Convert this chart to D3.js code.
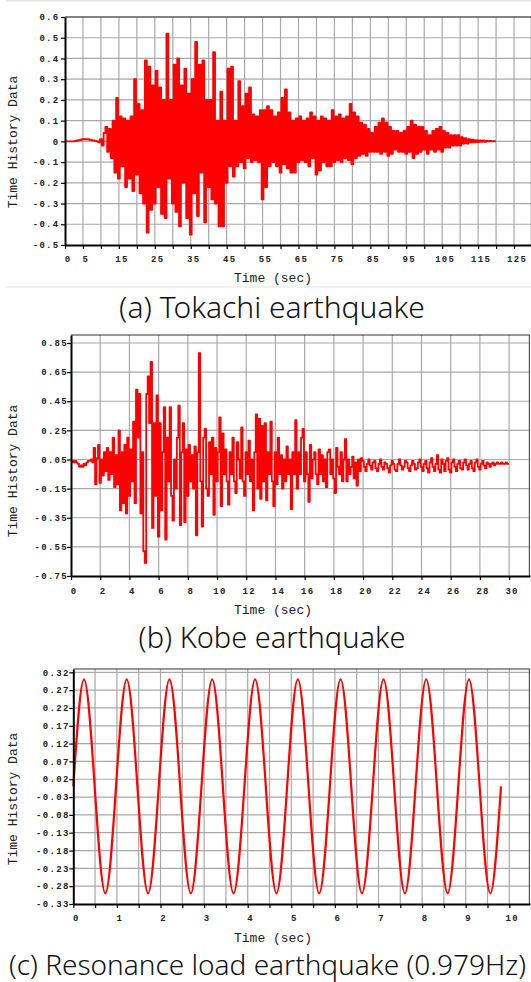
<!DOCTYPE html>
<html>
<head>
<meta charset="utf-8">
<script src="https://cdn.jsdelivr.net/npm/d3@7"></script>
<style>
  body { margin: 0; background: #fff; }
  svg { display: block; }
</style>
</head>
<body>
<svg width="531" height="982"></svg>
<script>
// ---- Data
// (a) Tokachi: one sample every 0.5 s, 0..120 s
const tokachiDt = 0.5;
const tokachiValues = [
  0, 0, 0, 0, 0, 0, 0.002, 0.004, 0.006, 0.008,
  0.01, 0.01, 0.01, 0.01, 0.008, 0.006, 0.004, 0.002, 0, -0.004,
  0.01, -0.02, 0.04, 0.07, -0.05, 0.06, -0.08, 0.1, -0.15, 0.21,
  -0.18, 0.12, -0.12, 0.11, -0.22, 0.1, -0.18, 0.12, -0.24, 0.3,
  -0.16, 0.18, -0.25, 0.15, -0.3, 0.39, -0.44, 0.36, -0.33, 0.27,
  -0.3, 0.34, -0.22, 0.26, -0.35, 0.2, -0.37, 0.52, -0.18, 0.2,
  -0.3, 0.37, -0.34, 0.4, -0.41, 0.27, -0.2, 0.35, -0.37, 0.23,
  -0.45, 0.3, -0.25, 0.48, -0.36, 0.37, -0.15, 0.39, -0.39, 0.2,
  -0.22, 0.2, -0.28, 0.43, -0.3, 0.1, -0.41, 0.24, -0.41, 0.1,
  -0.2, 0.35, -0.12, 0.36, -0.17, 0.1, -0.12, 0.29, -0.1, 0.17,
  -0.13, 0.23, -0.08, 0.26, -0.1, 0.13, -0.09, 0.12, -0.1, 0.15,
  -0.28, 0.15, -0.22, 0.17, -0.12, 0.15, -0.1, 0.12, -0.12, 0.14,
  -0.15, 0.21, -0.11, 0.25, -0.13, 0.14, -0.15, 0.1, -0.15, 0.11,
  -0.1, 0.12, -0.09, 0.1, -0.1, 0.11, -0.12, 0.14, -0.08, 0.12,
  -0.16, 0.1, -0.14, 0.12, -0.1, 0.11, -0.12, 0.1, -0.12, 0.15,
  -0.1, 0.12, -0.09, 0.13, -0.1, 0.11, -0.08, 0.12, -0.09, 0.18,
  -0.11, 0.14, -0.08, 0.12, -0.07, 0.09, -0.06, 0.08, -0.07, 0.06,
  -0.05, 0.04, -0.05, 0.07, -0.05, 0.09, -0.06, 0.11, -0.05, 0.09,
  -0.07, 0.07, -0.06, 0.05, -0.04, 0.05, -0.05, 0.04, -0.05, 0.05,
  -0.06, 0.07, -0.05, 0.1, -0.08, 0.08, -0.06, 0.07, -0.05, 0.07,
  -0.04, 0.05, -0.06, 0.03, -0.04, 0.05, -0.05, 0.06, -0.04, 0.07,
  -0.05, 0.05, -0.03, 0.04, -0.03, 0.03, -0.02, 0.03, -0.02, 0.03,
  -0.02, 0.02, -0.01, 0.015, -0.01, 0.01, -0.005, 0.008, -0.004, 0.006,
  -0.003, 0.005, -0.002, 0.004, -0.002, 0.003, 0, 0.002, 0, 0.001,
  0
];

// (b) Kobe: one sample every 0.1 s, 0..30 s
const kobeDt = 0.1;
const kobeValues = [
  0.03, 0.04, 0.03, 0.04, 0.03, 0.02, 0.0, 0.01, 0.0, 0.02,
  0.01, 0.03, 0.04, 0.04, 0.05, 0.03, 0.13, -0.12, 0.06, 0.15,
  -0.11, 0.05, -0.06, 0.1, -0.03, 0.13, -0.09, 0.1, -0.05, 0.2,
  -0.14, 0.08, -0.12, 0.25, -0.3, 0.1, -0.25, 0.15, -0.32, 0.2,
  -0.2, 0.12, -0.1, 0.31, -0.25, 0.53, 0.2, 0.5, -0.32, 0.1,
  -0.58, -0.66, 0.5, 0.62, 0.3, 0.72, -0.42, 0.3, -0.2, 0.49,
  -0.48, 0.3, -0.3, 0.1, 0.41, -0.5, 0.2, -0.1, 0.41, -0.2,
  -0.37, 0.05, -0.15, 0.2, 0.42, -0.4, 0.1, 0.3, -0.38, 0.12,
  -0.2, 0.15, -0.1, 0.08, -0.15, 0.14, -0.47, 0.1, 0.78, -0.1,
  -0.41, 0.2, 0.26, -0.15, -0.2, 0.17, -0.05, 0.2, -0.33, 0.13,
  -0.1, 0.1, 0.34, -0.27, 0.23, -0.05, 0.12, -0.1, -0.26, 0.1,
  -0.05, 0.2, -0.1, -0.18, 0.17, 0.05, -0.08, 0.27, -0.1, -0.2,
  0.1, -0.05, 0.18, -0.1, 0.05, -0.3, 0.1, 0.36, -0.15, 0.33,
  -0.22, 0.28, -0.1, 0.3, -0.23, 0.1, -0.05, 0.31, -0.1, -0.27,
  0.1, -0.12, 0.2, -0.05, 0.08, -0.15, 0.05, -0.1, 0.14, -0.05,
  0.05, -0.29, 0.1, -0.05, 0.32, -0.15, 0.1, -0.05, 0.2, 0.26,
  -0.1, 0.1, -0.05, -0.24, 0.15, -0.08, 0.05, 0.1, -0.05, -0.12,
  0.12, -0.05, 0.08, -0.1, 0.05, -0.14, 0.1, 0.12, -0.05, 0.05,
  -0.08, -0.18, 0.13, 0.0, -0.05, 0.1, -0.1, 0.05, 0.19, -0.1,
  0.05, -0.05, 0.0, 0.07, -0.08, 0.03, -0.13, 0.05, -0.03, 0.06,
  0.04, 0.0, -0.03, 0.02, 0.05, 0.01, -0.02, 0.03, 0.04, -0.01,
  -0.03, 0.02, 0.05, 0.0, -0.02, 0.03, 0.02, -0.01, -0.04, 0.01,
  0.04, 0.02, -0.02, -0.03, 0.02, 0.05, 0.01, -0.02, 0.0, 0.04,
  0.03, -0.01, -0.03, 0.01, 0.04, 0.02, -0.02, -0.01, 0.03, 0.05,
  0.0, -0.03, 0.02, 0.04, -0.01, -0.04, 0.03, 0.06, 0.0, -0.03,
  0.02, 0.08, -0.02, -0.04, 0.05, 0.02, -0.03, 0.04, 0.06, -0.02,
  -0.04, 0.03, 0.05, 0.0, -0.03, 0.02, 0.04, -0.01, -0.02, 0.03,
  0.05, 0.01, -0.02, 0.02, 0.04, -0.01, -0.03, 0.03, 0.05, 0.0,
  -0.02, 0.02, 0.04, 0.01, -0.01, 0.03, 0.02, 0.0, 0.02, 0.03,
  0.01, 0.02, 0.03, 0.02, 0.02, 0.03, 0.02, 0.02, 0.03, 0.02,
  0.02
];

// (c) Resonance load: zero crossings, peaks and troughs
const resonanceTimes = [
  0, 0.245, 0.49, 0.735, 0.98, 1.225, 1.47, 1.715, 1.96, 2.205,
  2.45, 2.695, 2.94, 3.185, 3.43, 3.675, 3.925, 4.17, 4.415, 4.66,
  4.905, 5.15, 5.395, 5.64, 5.885, 6.13, 6.375, 6.62, 6.87, 7.115,
  7.36, 7.605, 7.85, 8.095, 8.34, 8.585, 8.83, 9.075, 9.32, 9.565,
  9.81
];
const resonanceValues = [
  0, 0.3, 0, -0.3, 0, 0.3, 0, -0.3, 0, 0.3,
  0, -0.3, 0, 0.3, 0, -0.3, 0, 0.3, 0, -0.3,
  0, 0.3, 0, -0.3, 0, 0.3, 0, -0.3, 0, 0.3,
  0, -0.3, 0, 0.3, 0, -0.3, 0, 0.3, 0, -0.3,
  0
];

// ---- Tick labels
const tokachiYTicks = [0.6, 0.5, 0.4, 0.3, 0.2, 0.1, 0, -0.1, -0.2, -0.3, -0.4, -0.5];
const tokachiXTicks = [0, 5, 10, 15, 20, 25, 30, 35, 40, 45, 50, 55, 60, 65, 70, 75, 80, 85, 90, 95, 100, 105, 110, 115, 120, 125, 130];
const tokachiXLabels = [0, 5, 15, 25, 35, 45, 55, 65, 75, 85, 95, 105, 115, 125];

const kobeYTicks = [0.85, 0.65, 0.45, 0.25, 0.05, -0.15, -0.35, -0.55, -0.75];
const kobeXTicks = [0, 2, 4, 6, 8, 10, 12, 14, 16, 18, 20, 22, 24, 26, 28, 30];
const kobeXLabels = kobeXTicks;

const resonanceYTicks = [0.32, 0.27, 0.22, 0.17, 0.12, 0.07, 0.02, -0.03, -0.08, -0.13, -0.18, -0.23, -0.28, -0.33];
const resonanceXTicks = [0, 0.5, 1, 1.5, 2, 2.5, 3, 3.5, 4, 4.5, 5, 5.5, 6, 6.5, 7, 7.5, 8, 8.5, 9, 9.5, 10];
const resonanceXLabels = [0, 1, 2, 3, 4, 5, 6, 7, 8, 9, 10];

const captions = ['(a) Tokachi earthquake', '(b) Kobe earthquake', '(c) Resonance load earthquake (0.979Hz)'];

// ---- Build point lists
const tokachiData = tokachiValues.map((v, i) => ({ t: i * tokachiDt, v }));
const kobeData = kobeValues.map((v, i) => ({ t: i * kobeDt, v }));
const resonanceData = resonanceValues.map((v, i) => ({ t: resonanceTimes[i], v }));

const svg = d3.select('svg');
const monoFont = '"Liberation Mono", "DejaVu Sans Mono", monospace';

// light frame lines of panel (a)
svg.append('line').attr('x1', 6).attr('x2', 531).attr('y1', 0.8).attr('y2', 0.8)
  .attr('stroke', '#e4e4e4').attr('stroke-width', 1.6);
svg.append('line').attr('x1', 6).attr('x2', 531).attr('y1', 287).attr('y2', 287)
  .attr('stroke', '#e4e4e4').attr('stroke-width', 1.2);

function drawPanel(p) {
  const g = svg.append('g');

  const x = d3.scaleLinear().domain([0, p.xMax]).range([p.left, p.right]);
  const y = d3.scaleLinear().domain([p.yMin, p.yMax]).range([p.bottom, p.top]);

  // grid
  g.append('g').selectAll('line')
    .data(p.xTicks.filter(d => d > 0))
    .join('line')
    .attr('x1', d => x(d)).attr('x2', d => x(d))
    .attr('y1', p.top).attr('y2', p.bottom)
    .attr('stroke', '#a9a9a9').attr('stroke-width', 1.2);

  g.append('g').selectAll('line')
    .data(p.yTicks.filter(d => d > p.yMin))
    .join('line')
    .attr('x1', p.left).attr('x2', p.right)
    .attr('y1', d => y(d)).attr('y2', d => y(d))
    .attr('stroke', '#a9a9a9').attr('stroke-width', 1.2);

  // frame top / right
  g.append('line').attr('x1', p.left).attr('x2', p.right)
    .attr('y1', p.top).attr('y2', p.top)
    .attr('stroke', '#333').attr('stroke-width', 1.2);
  g.append('line').attr('x1', p.right - 0.6).attr('x2', p.right - 0.6)
    .attr('y1', p.top).attr('y2', p.bottom)
    .attr('stroke', '#555').attr('stroke-width', 1.2);

  // series
  const line = d3.line()
    .x(d => x(d.t))
    .y(d => y(d.v))
    .curve(p.curve);

  g.append('path')
    .datum(p.data)
    .attr('fill', 'none')
    .attr('stroke', '#ff0000')
    .attr('stroke-width', p.lineWidth)
    .attr('stroke-linejoin', 'round')
    .attr('d', line);

  // axes
  const xAxis = d3.axisBottom(x)
    .tickValues(p.xTicks)
    .tickSize(4)
    .tickSizeOuter(0)
    .tickFormat(d => p.xLabels.includes(d) ? String(d) : '');

  const gx = g.append('g')
    .attr('transform', `translate(0, ${p.bottom})`)
    .call(xAxis);
  gx.select('.domain').attr('stroke', '#000').attr('stroke-width', 2);
  gx.selectAll('.tick line').attr('stroke', '#000').attr('stroke-width', 1.2);
  gx.selectAll('.tick text')
    .attr('y', p.xLabelY - p.bottom)
    .attr('dy', null)
    .attr('dx', 2.5)
    .attr('fill', '#222')
    .attr('font-family', monoFont)
    .attr('font-weight', 'bold')
    .attr('font-size', 9)
    .attr('letter-spacing', 1.3);

  const yAxis = d3.axisLeft(y)
    .tickValues(p.yTicks)
    .tickSize(4)
    .tickSizeOuter(0)
    .tickFormat(p.yFormat);

  const gy = g.append('g')
    .attr('transform', `translate(${p.left}, 0)`)
    .call(yAxis);
  gy.select('.domain').attr('stroke', '#000').attr('stroke-width', 2);
  gy.selectAll('.tick line').attr('stroke', '#000').attr('stroke-width', 1.2);
  gy.selectAll('.tick text')
    .attr('x', p.yLabelX)
    .attr('dy', '0.3em')
    .attr('fill', '#222')
    .attr('font-family', monoFont)
    .attr('font-weight', 'bold')
    .attr('font-size', 9)
    .attr('letter-spacing', 1.3);

  // axis titles
  g.append('text')
    .attr('x', 273).attr('y', p.xTitleY)
    .attr('text-anchor', 'middle')
    .attr('font-family', monoFont)
    .attr('font-size', 13)
    .attr('fill', '#222')
    .text('Time (sec)');

  g.append('text')
    .attr('transform', `translate(17, ${p.yTitleY}) rotate(-90)`)
    .attr('text-anchor', 'middle')
    .attr('font-family', monoFont)
    .attr('font-size', 13)
    .attr('fill', '#222')
    .text('Time History Data');

  // caption
  g.append('text')
    .attr('x', p.captionX).attr('y', p.captionY)
    .attr('text-anchor', p.captionAnchor)
    .attr('font-family', '"Noto Sans", "Noto Sans CJK KR", sans-serif')
    .attr('font-weight', 300)
    .attr('font-size', p.captionSize)
    .attr('fill', '#111')
    .text(p.caption);
}

drawPanel({
  data: tokachiData, curve: d3.curveStep, lineWidth: 1.9,
  left: 65, right: 532, xMax: 130,
  top: 17, bottom: 245, yMin: -0.5, yMax: 0.6,
  xTicks: tokachiXTicks, xLabels: tokachiXLabels,
  yTicks: tokachiYTicks, yFormat: d => d === 0 ? '0' : d.toFixed(1),
  yLabelX: -5.5, xLabelY: 262, xTitleY: 282, yTitleY: 142,
  captionX: 272, captionAnchor: 'middle', captionSize: 30,
  captionY: 318, caption: captions[0]
});

drawPanel({
  data: kobeData, curve: d3.curveStep, lineWidth: 1.8,
  left: 71, right: 530, xMax: 31.43,
  top: 335, bottom: 576, yMin: -0.75, yMax: 0.905,
  xTicks: kobeXTicks, xLabels: kobeXLabels,
  yTicks: kobeYTicks, yFormat: d => d.toFixed(2),
  yLabelX: -3, xLabelY: 594, xTitleY: 613.5, yTitleY: 471,
  captionX: 272, captionAnchor: 'middle', captionSize: 29,
  captionY: 647.5, caption: captions[1]
});

drawPanel({
  data: resonanceData, curve: d3.curveNatural, lineWidth: 2.2,
  left: 73.3, right: 530, xMax: 10.475,
  top: 669, bottom: 904, yMin: -0.33, yMax: 0.3293,
  xTicks: resonanceXTicks, xLabels: resonanceXLabels,
  yTicks: resonanceYTicks, yFormat: d => d.toFixed(2),
  yLabelX: -3.7, xLabelY: 921, xTitleY: 942, yTitleY: 799,
  captionX: 9, captionAnchor: 'start', captionSize: 28,
  captionY: 975, caption: captions[2]
});
</script>
</body>
</html>
